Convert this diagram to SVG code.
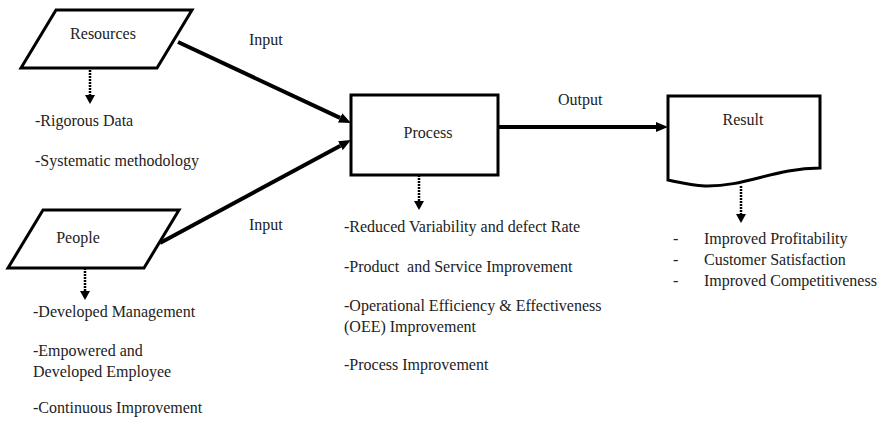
<svg xmlns="http://www.w3.org/2000/svg" width="883" height="424" viewBox="0 0 883 424">
<style>
.shape{fill:#fff;stroke:#000;stroke-width:3;stroke-linejoin:miter}
.t{font-family:"Liberation Serif","Times New Roman",serif;font-size:16px;fill:#222}
.c{text-anchor:middle}
.main{stroke:#000;stroke-width:4;fill:none}
.dot{stroke:#000;stroke-width:2.5;stroke-dasharray:2 1;fill:none}
</style>
<defs>
<marker id="ah" viewBox="0 0 12 10" refX="0" refY="5" markerWidth="12" markerHeight="10" markerUnits="userSpaceOnUse" orient="auto"><path d="M0,0 L12,5 L0,10 Z" fill="#000"/></marker>
<marker id="dh" viewBox="0 0 9 10" refX="0" refY="5" markerWidth="9" markerHeight="10" markerUnits="userSpaceOnUse" orient="auto"><path d="M0,0 L9,5 L0,10 Z" fill="#000"/></marker>
</defs>
<rect width="883" height="424" fill="#fff"/>
<g id="connectors">
<line class="main" x1="178" y1="42" x2="340.1" y2="117.9" marker-end="url(#ah)"/>
<line class="main" x1="160" y1="243" x2="340.4" y2="145.7" marker-end="url(#ah)"/>
<line class="main" x1="498" y1="127" x2="656" y2="127" marker-end="url(#ah)"/>
<line class="dot" x1="90" y1="70" x2="90" y2="95" marker-end="url(#dh)"/>
<line class="dot" x1="85" y1="268" x2="85" y2="291" marker-end="url(#dh)"/>
<line class="dot" x1="419" y1="175" x2="419" y2="201" marker-end="url(#dh)"/>
<line class="dot" x1="741" y1="186" x2="741" y2="214" marker-end="url(#dh)"/>
<text class="t" x="249" y="45">Input</text>
<text class="t" x="249" y="230">Input</text>
<text class="t" x="558" y="105">Output</text>
</g>
<g id="resources">
<polygon class="shape" points="56,10 192,10 157,68 21,68"/>
<text class="t c" x="103" y="39">Resources</text>
<text class="t" x="35" y="126">-Rigorous Data</text>
<text class="t" x="35" y="166">-Systematic methodology</text>
</g>
<g id="people">
<polygon class="shape" points="43,210 179,210 144,268 8,268"/>
<text class="t c" x="78" y="243">People</text>
<text class="t" x="33" y="317">-Developed Management</text>
<text class="t" x="33" y="356">-Empowered and</text>
<text class="t" x="33" y="377">Developed Employee</text>
<text class="t" x="33" y="413">-Continuous Improvement</text>
</g>
<g id="process">
<rect class="shape" x="351" y="95" width="147" height="80"/>
<text class="t c" x="428" y="138">Process</text>
<text class="t" x="344" y="232">-Reduced Variability and defect Rate</text>
<text class="t" x="344" y="272" xml:space="preserve">-Product  and Service Improvement</text>
<text class="t" x="344" y="311">-Operational Efficiency &amp; Effectiveness</text>
<text class="t" x="344" y="332">(OEE) Improvement</text>
<text class="t" x="344" y="370">-Process Improvement</text>
</g>
<g id="result">
<path class="shape" d="M668,96 H820 V168 C775,168 745,187 705,186 C690,185 678,182 668,180 Z"/>
<text class="t c" x="743" y="125">Result</text>
<text class="t" x="673" y="244">-</text>
<text class="t" x="704" y="244">Improved Profitability</text>
<text class="t" x="673" y="265">-</text>
<text class="t" x="704" y="265">Customer Satisfaction</text>
<text class="t" x="673" y="286">-</text>
<text class="t" x="704" y="286">Improved Competitiveness</text>
</g>
</svg>
